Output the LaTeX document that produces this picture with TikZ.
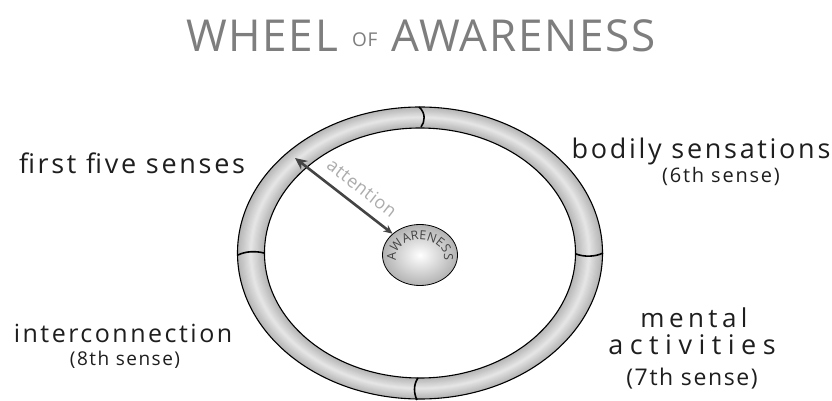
\documentclass[tikz,border=0pt]{standalone}
\usepackage{fontspec}
\setmainfont{Open Sans}
\newfontfamily\hand{Open Sans}
\usetikzlibrary{shapes.geometric,arrows.meta,decorations.text}
\definecolor{ink}{HTML}{1E1E1E}
\definecolor{titlegray}{HTML}{7E7E7E}
\definecolor{arrowgray}{HTML}{444444}
\tikzset{
  lbl/.style={text=ink, inner sep=0pt, anchor=base, font=\hand},
  edge/.style={draw=black, line width=1.1pt},
  divider/.style={draw=black, line width=1.6pt},
}
\begin{document}
\begin{tikzpicture}[x=1pt,y=-1pt]
\useasboundingbox[fill=white] (0,0) rectangle (832,401);
% title
\node[inner sep=0pt, anchor=base, text=titlegray] (title) at (421,52)
  {\hand\fontsize{44}{44}\selectfont\addfontfeature{LetterSpace=4}WHEEL\hspace{14pt}\raisebox{5pt}{\fontsize{19}{19}\selectfont OF}\hspace{14pt}AWARENESS};
% ring with gradient
\foreach \i in {0,...,11}{
  \pgfmathsetmacro\t{\i/24}
  \pgfmathsetmacro\c{58-80*\t}
  \fill[even odd rule, fill=gray!\c]
    (420,253) ellipse [x radius={182.5-27*\t}, y radius={146-21*\t}]
    (420,253) ellipse [x radius={155.5+27*\t}, y radius={125+21*\t}];
}
\draw[edge] (420,253) ellipse [x radius=182.5, y radius=146];
\draw[edge] (420,253) ellipse [x radius=155.5, y radius=125];
% dividers
\draw[divider] (419,107) .. controls (426,113) and (425,122) .. (421,127);
\draw[divider] (418,378) .. controls (413,385) and (414,394) .. (417,400);
\draw[divider] (238,255) .. controls (246,251) and (256,251) .. (264,253);
\draw[divider] (576,254) .. controls (584,257) and (595,257) .. (603,253);
% awareness
\node[ellipse, draw=black, line width=0.8pt, minimum width=75pt, minimum height=61pt,
      inner color=white, outer color=gray!60, shade] (aw) at (420,255) {};
\path[decorate, decoration={text along path, text align=center,
      text={|\hand\fontsize{12.5}{12.5}\selectfont\color{arrowgray}|AWARENESS}}]
  (420,257) ++(150:24 and 17) arc[start angle=150, end angle=390, x radius=24, y radius=17];
% attention arrow
\coordinate (att1) at (295,158);
\draw[line width=2.6pt, draw=arrowgray,
      {Stealth[length=12pt,width=11pt]}-{Stealth[length=9pt,width=8pt]}] (att1) -- (aw);
\node[rotate=-38, text=gray!65, inner sep=0pt] (attn) at (362,188)
  {\hand\fontsize{18}{18}\selectfont\addfontfeature{LetterSpace=4}attention};
% labels
\node[lbl] (ffs) at (132,173) {\fontsize{27}{27}\selectfont\addfontfeature{LetterSpace=10}first five senses};
\node[lbl] (bs) at (701,158) {\fontsize{27}{27}\selectfont\addfontfeature{LetterSpace=10}bodily sensations};
\node[lbl] (bs6) at (721,182) {\fontsize{20}{20}\selectfont\addfontfeature{LetterSpace=9}(6th sense)};
\node[lbl] (ic) at (123,342) {\fontsize{25}{25}\selectfont\addfontfeature{LetterSpace=10}interconnection};
\node[lbl] (ic8) at (125,365) {\fontsize{19}{19}\selectfont\addfontfeature{LetterSpace=8}(8th sense)};
\node[lbl] (ma1) at (694,327) {\fontsize{26}{26}\selectfont\addfontfeature{LetterSpace=17}mental};
\node[lbl] (ma2) at (692,354) {\fontsize{27}{27}\selectfont\addfontfeature{LetterSpace=24}activities};
\node[lbl] (ma7) at (692,385) {\fontsize{23}{23}\selectfont\addfontfeature{LetterSpace=7}(7th sense)};
\end{tikzpicture}
\end{document}
